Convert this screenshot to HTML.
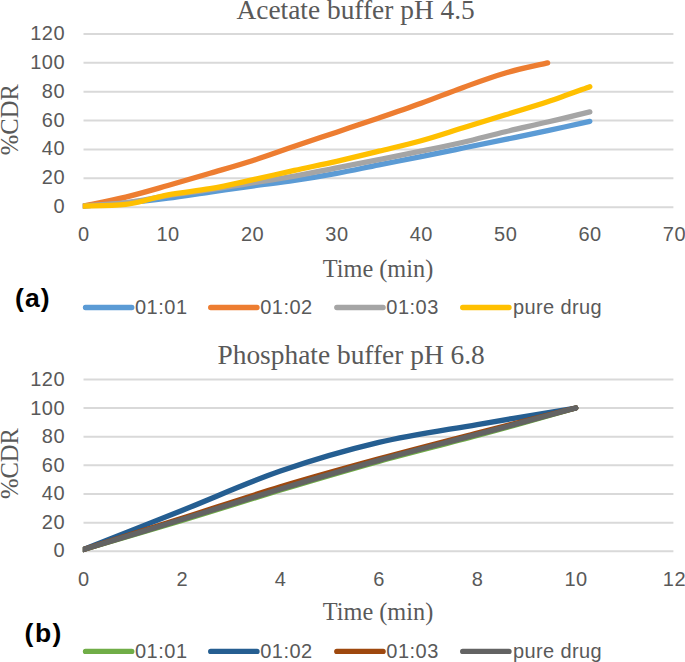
<!DOCTYPE html>
<html><head><meta charset="utf-8"><style>
html,body{margin:0;padding:0;background:#fff;}
svg{display:block;}
.t{font-family:"Liberation Sans",sans-serif;font-size:20px;letter-spacing:0.5px;fill:#595959;}
.ti{font-family:"Liberation Serif",serif;font-size:27.4px;fill:#595959;}
.at{font-family:"Liberation Serif",serif;font-size:24.3px;fill:#595959;}
.tag{font-family:"Liberation Sans",sans-serif;font-size:26.5px;font-weight:bold;letter-spacing:1.1px;fill:#000;}
</style></head><body>
<svg width="685" height="662" viewBox="0 0 685 662">
<rect width="685" height="662" fill="#fff"/>
<line x1="83.5" x2="673.4000000000001" y1="207.20" y2="207.20" stroke="#D9D9D9" stroke-width="2"/>
<text x="65.1" y="213.00" text-anchor="end" class="t">0</text>
<line x1="83.5" x2="673.4000000000001" y1="178.33" y2="178.33" stroke="#D9D9D9" stroke-width="2"/>
<text x="65.1" y="184.20" text-anchor="end" class="t">20</text>
<line x1="83.5" x2="673.4000000000001" y1="149.47" y2="149.47" stroke="#D9D9D9" stroke-width="2"/>
<text x="65.1" y="155.40" text-anchor="end" class="t">40</text>
<line x1="83.5" x2="673.4000000000001" y1="120.60" y2="120.60" stroke="#D9D9D9" stroke-width="2"/>
<text x="65.1" y="126.60" text-anchor="end" class="t">60</text>
<line x1="83.5" x2="673.4000000000001" y1="91.73" y2="91.73" stroke="#D9D9D9" stroke-width="2"/>
<text x="65.1" y="97.80" text-anchor="end" class="t">80</text>
<line x1="83.5" x2="673.4000000000001" y1="62.87" y2="62.87" stroke="#D9D9D9" stroke-width="2"/>
<text x="65.1" y="69.00" text-anchor="end" class="t">100</text>
<line x1="83.5" x2="673.4000000000001" y1="34.00" y2="34.00" stroke="#D9D9D9" stroke-width="2"/>
<text x="65.1" y="40.20" text-anchor="end" class="t">120</text>
<text x="83.75" y="240.50" text-anchor="middle" class="t">0</text>
<text x="168.14" y="240.50" text-anchor="middle" class="t">10</text>
<text x="252.52" y="240.50" text-anchor="middle" class="t">20</text>
<text x="336.91" y="240.50" text-anchor="middle" class="t">30</text>
<text x="421.29" y="240.50" text-anchor="middle" class="t">40</text>
<text x="505.68" y="240.50" text-anchor="middle" class="t">50</text>
<text x="590.06" y="240.50" text-anchor="middle" class="t">60</text>
<text x="674.45" y="240.50" text-anchor="middle" class="t">70</text>
<text x="236.5" y="19" class="ti">Acetate buffer pH 4.5</text>
<text transform="translate(17.9,119.70) rotate(-90)" text-anchor="middle" class="at" style="font-size:24.6px">%CDR</text>
<text x="378" y="276.60" text-anchor="middle" class="at">Time (min)</text>
<clipPath id="ca"><rect x="82.8" y="24.0" width="600" height="193.2"/></clipPath>
<g clip-path="url(#ca)">
<path d="M83.50,205.90 C90.53,205.40 111.63,204.17 125.69,202.87 C139.76,201.57 153.82,199.91 167.89,198.11 C181.95,196.30 196.01,194.04 210.08,192.04 C224.14,190.05 238.21,188.05 252.27,186.13 C266.34,184.20 280.40,182.62 294.46,180.50 C308.53,178.38 322.59,176.02 336.66,173.43 C350.72,170.83 364.79,167.70 378.85,164.91 C392.91,162.12 406.98,159.50 421.04,156.68 C435.11,153.87 449.17,150.91 463.24,148.02 C477.30,145.14 491.36,142.25 505.43,139.36 C519.49,136.48 533.56,133.71 547.62,130.70 C561.69,127.70 582.78,122.89 589.81,121.32" fill="none" stroke="#5B9BD5" stroke-width="5.3" stroke-linecap="round" stroke-linejoin="round"/>
<path d="M83.50,205.90 C90.53,204.43 111.63,200.49 125.69,197.10 C139.76,193.70 153.82,189.52 167.89,185.55 C181.95,181.58 196.01,177.42 210.08,173.28 C224.14,169.14 238.21,165.22 252.27,160.72 C266.34,156.23 280.40,151.05 294.46,146.29 C308.53,141.53 322.59,136.86 336.66,132.15 C350.72,127.43 364.79,122.81 378.85,118.00 C392.91,113.19 406.98,108.38 421.04,103.28 C435.11,98.18 449.17,92.45 463.24,87.40 C477.30,82.35 491.36,77.06 505.43,72.97 C519.49,68.88 540.59,64.55 547.62,62.87" fill="none" stroke="#ED7D31" stroke-width="5.3" stroke-linecap="round" stroke-linejoin="round"/>
<path d="M83.50,205.90 C90.53,205.35 111.63,204.29 125.69,202.58 C139.76,200.87 153.82,197.82 167.89,195.65 C181.95,193.49 196.01,191.71 210.08,189.59 C224.14,187.47 238.21,185.21 252.27,182.95 C266.34,180.69 280.40,178.55 294.46,176.02 C308.53,173.50 322.59,170.54 336.66,167.80 C350.72,165.05 364.79,162.34 378.85,159.57 C392.91,156.80 406.98,154.09 421.04,151.20 C435.11,148.31 449.17,145.50 463.24,142.25 C477.30,139.00 491.36,135.08 505.43,131.71 C519.49,128.35 533.56,125.34 547.62,122.04 C561.69,118.75 582.78,113.62 589.81,111.94" fill="none" stroke="#A5A5A5" stroke-width="5.3" stroke-linecap="round" stroke-linejoin="round"/>
<path d="M83.50,206.05 C90.53,205.78 111.63,206.33 125.69,204.46 C139.76,202.58 153.82,197.41 167.89,194.79 C181.95,192.17 196.01,191.20 210.08,188.73 C224.14,186.25 238.21,182.98 252.27,179.92 C266.34,176.87 280.40,173.50 294.46,170.39 C308.53,167.29 322.59,164.50 336.66,161.30 C350.72,158.10 364.79,154.61 378.85,151.20 C392.91,147.78 406.98,144.70 421.04,140.81 C435.11,136.91 449.17,132.15 463.24,127.82 C477.30,123.49 491.36,119.16 505.43,114.83 C519.49,110.50 533.56,106.53 547.62,101.84 C561.69,97.15 582.78,89.21 589.81,86.68" fill="none" stroke="#FFC000" stroke-width="5.3" stroke-linecap="round" stroke-linejoin="round"/>
</g>
<text x="15.0" y="306.9" class="tag" style="letter-spacing:1.1px">(a)</text>
<line x1="85.5" x2="131.8" y1="307.5" y2="307.5" stroke="#5B9BD5" stroke-width="5.3" stroke-linecap="round"/>
<text x="135.0" y="313.9" class="t">01:01</text>
<line x1="210.7" x2="257.0" y1="307.5" y2="307.5" stroke="#ED7D31" stroke-width="5.3" stroke-linecap="round"/>
<text x="260.2" y="313.9" class="t">01:02</text>
<line x1="336.8" x2="383.1" y1="307.5" y2="307.5" stroke="#A5A5A5" stroke-width="5.3" stroke-linecap="round"/>
<text x="386.3" y="313.9" class="t">01:03</text>
<line x1="462.7" x2="509.0" y1="307.5" y2="307.5" stroke="#FFC000" stroke-width="5.3" stroke-linecap="round"/>
<text x="513.0" y="313.9" class="t" style="letter-spacing:0.38px">pure drug</text>
<line x1="83.5" x2="673.4000000000001" y1="551.30" y2="551.30" stroke="#D9D9D9" stroke-width="2"/>
<text x="65.1" y="557.10" text-anchor="end" class="t">0</text>
<line x1="83.5" x2="673.4000000000001" y1="522.65" y2="522.65" stroke="#D9D9D9" stroke-width="2"/>
<text x="65.1" y="528.65" text-anchor="end" class="t">20</text>
<line x1="83.5" x2="673.4000000000001" y1="494.00" y2="494.00" stroke="#D9D9D9" stroke-width="2"/>
<text x="65.1" y="500.20" text-anchor="end" class="t">40</text>
<line x1="83.5" x2="673.4000000000001" y1="465.35" y2="465.35" stroke="#D9D9D9" stroke-width="2"/>
<text x="65.1" y="471.75" text-anchor="end" class="t">60</text>
<line x1="83.5" x2="673.4000000000001" y1="436.70" y2="436.70" stroke="#D9D9D9" stroke-width="2"/>
<text x="65.1" y="443.30" text-anchor="end" class="t">80</text>
<line x1="83.5" x2="673.4000000000001" y1="408.05" y2="408.05" stroke="#D9D9D9" stroke-width="2"/>
<text x="65.1" y="414.85" text-anchor="end" class="t">100</text>
<line x1="83.5" x2="673.4000000000001" y1="379.40" y2="379.40" stroke="#D9D9D9" stroke-width="2"/>
<text x="65.1" y="386.40" text-anchor="end" class="t">120</text>
<text x="83.75" y="585.90" text-anchor="middle" class="t">0</text>
<text x="182.20" y="585.90" text-anchor="middle" class="t">2</text>
<text x="280.65" y="585.90" text-anchor="middle" class="t">4</text>
<text x="379.10" y="585.90" text-anchor="middle" class="t">6</text>
<text x="477.55" y="585.90" text-anchor="middle" class="t">8</text>
<text x="576.00" y="585.90" text-anchor="middle" class="t">10</text>
<text x="674.45" y="585.90" text-anchor="middle" class="t">12</text>
<text x="217.5" y="363.6" class="ti">Phosphate buffer pH 6.8</text>
<text transform="translate(17.9,463.50) rotate(-90)" text-anchor="middle" class="at" style="font-size:24.6px">%CDR</text>
<text x="378" y="620.30" text-anchor="middle" class="at">Time (min)</text>
<clipPath id="cb"><rect x="82.8" y="369.4" width="600" height="191.89999999999998"/></clipPath>
<g clip-path="url(#cb)">
<path d="M83.50,549.44 C99.91,544.61 149.13,530.41 181.95,520.50 C214.77,510.59 247.58,499.85 280.40,489.99 C313.22,480.13 346.03,470.44 378.85,461.34 C411.67,452.24 444.48,444.29 477.30,435.41 C510.12,426.53 559.34,412.61 575.75,408.05" fill="none" stroke="#70AD47" stroke-width="5.3" stroke-linecap="round" stroke-linejoin="round"/>
<path d="M83.50,549.44 C99.91,542.94 149.13,523.53 181.95,510.47 C214.77,497.41 247.58,482.42 280.40,471.08 C313.22,459.74 346.03,450.19 378.85,442.43 C411.67,434.67 444.48,430.25 477.30,424.52 C510.12,418.79 559.34,410.80 575.75,408.05" fill="none" stroke="#255E91" stroke-width="5.3" stroke-linecap="round" stroke-linejoin="round"/>
<path d="M83.50,549.44 C99.91,544.26 149.13,528.79 181.95,518.35 C214.77,507.92 247.58,496.75 280.40,486.84 C313.22,476.93 346.03,467.86 378.85,458.90 C411.67,449.95 444.48,441.59 477.30,433.12 C510.12,424.64 559.34,412.23 575.75,408.05" fill="none" stroke="#9E480E" stroke-width="5.3" stroke-linecap="round" stroke-linejoin="round"/>
<path d="M83.50,549.44 C99.91,544.45 149.13,529.57 181.95,519.50 C214.77,509.42 247.58,498.85 280.40,488.99 C313.22,479.13 346.03,469.43 378.85,460.34 C411.67,451.24 444.48,443.12 477.30,434.41 C510.12,425.69 559.34,412.44 575.75,408.05" fill="none" stroke="#636363" stroke-width="5.3" stroke-linecap="round" stroke-linejoin="round"/>
</g>
<text x="24.6" y="642.4" class="tag" style="letter-spacing:1.5px">(b)</text>
<line x1="85.5" x2="131.8" y1="651.4" y2="651.4" stroke="#70AD47" stroke-width="5.3" stroke-linecap="round"/>
<text x="135.0" y="657.8" class="t">01:01</text>
<line x1="210.7" x2="257.0" y1="651.4" y2="651.4" stroke="#255E91" stroke-width="5.3" stroke-linecap="round"/>
<text x="260.2" y="657.8" class="t">01:02</text>
<line x1="336.8" x2="383.1" y1="651.4" y2="651.4" stroke="#9E480E" stroke-width="5.3" stroke-linecap="round"/>
<text x="386.3" y="657.8" class="t">01:03</text>
<line x1="462.7" x2="509.0" y1="651.4" y2="651.4" stroke="#636363" stroke-width="5.3" stroke-linecap="round"/>
<text x="513.0" y="657.8" class="t" style="letter-spacing:0.38px">pure drug</text>
</svg>
</body></html>
